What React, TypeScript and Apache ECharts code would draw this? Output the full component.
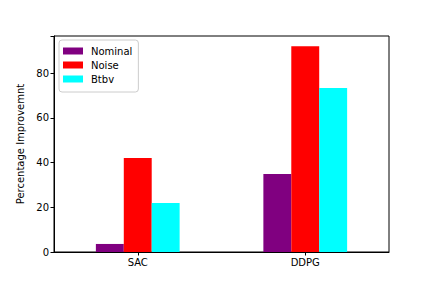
import React, { useEffect, useRef } from "react";
import * as echarts from "echarts";

const categories = ["SAC", "DDPG"];
const nominal = [3.6, 34.9];
const noise = [42.1, 92.1];
const btbv = [21.9, 73.4];
const yTicks = [0, 20, 40, 60, 80];

export default function App() {
  const ref = useRef<HTMLDivElement>(null);
  useEffect(() => {
    if (!ref.current) return;
    const chart = echarts.init(ref.current, undefined, { renderer: "svg" });
    const font = "DejaVu Sans";
    chart.setOption({
      animation: false,
      backgroundColor: "#fff",
      textStyle: { fontFamily: font },
      grid: {
        left: 54,
        right: 43,
        top: 36,
        bottom: 36,
        show: true,
        borderColor: "#000",
        borderWidth: 1,
        backgroundColor: "transparent",
      },
      legend: {
        orient: "vertical",
        left: 59,
        top: 40,
        itemWidth: 20,
        itemHeight: 7,
        itemGap: 2,
        padding: [5, 6, 7, 4],
        backgroundColor: "#fff",
        borderColor: "#ccc",
        borderWidth: 1,
        borderRadius: 3,
        icon: "rect",
        textStyle: { fontFamily: font, fontSize: 10, lineHeight: 12, color: "#000", padding: [0, 0, 0, 3] },
        data: ["Nominal", "Noise", "Btbv"],
      },
      xAxis: {
        type: "category",
        data: categories,
        boundaryGap: true,
        axisLine: { show: true, lineStyle: { color: "#000", width: 1 } },
        axisTick: { show: true, alignWithLabel: true, length: 3.5, lineStyle: { color: "#000" } },
        axisLabel: { fontFamily: font, fontSize: 10, color: "#000", margin: 5 },
        splitLine: { show: false },
      },
      yAxis: {
        type: "value",
        min: 0,
        max: 96.7,
        interval: 20,
        name: "Percentage Improvemnt",
        nameLocation: "middle",
        nameGap: 24,
        nameTextStyle: { fontFamily: font, fontSize: 10, color: "#000" },
        axisLine: { show: true, lineStyle: { color: "#000", width: 1 } },
        axisTick: { show: true, length: 3.5, lineStyle: { color: "#000" } },
        axisLabel: {
          fontFamily: font,
          fontSize: 10,
          color: "#000",
          margin: 5,
          formatter: (v: number) => (yTicks.includes(v) ? String(v) : ""),
        },
        splitLine: { show: false },
      },
      series: [
        { name: "Nominal", type: "bar", data: nominal, barWidth: "16.667%", barGap: "0%", itemStyle: { color: "#800080" } },
        { name: "Noise", type: "bar", data: noise, barWidth: "16.667%", barGap: "0%", itemStyle: { color: "#ff0000" } },
        { name: "Btbv", type: "bar", data: btbv, barWidth: "16.667%", barGap: "0%", itemStyle: { color: "#00ffff" } },
      ],
    });
    return () => chart.dispose();
  }, []);
  return <div ref={ref} style={{ width: 432, height: 288, margin: -8 }} />;
}
